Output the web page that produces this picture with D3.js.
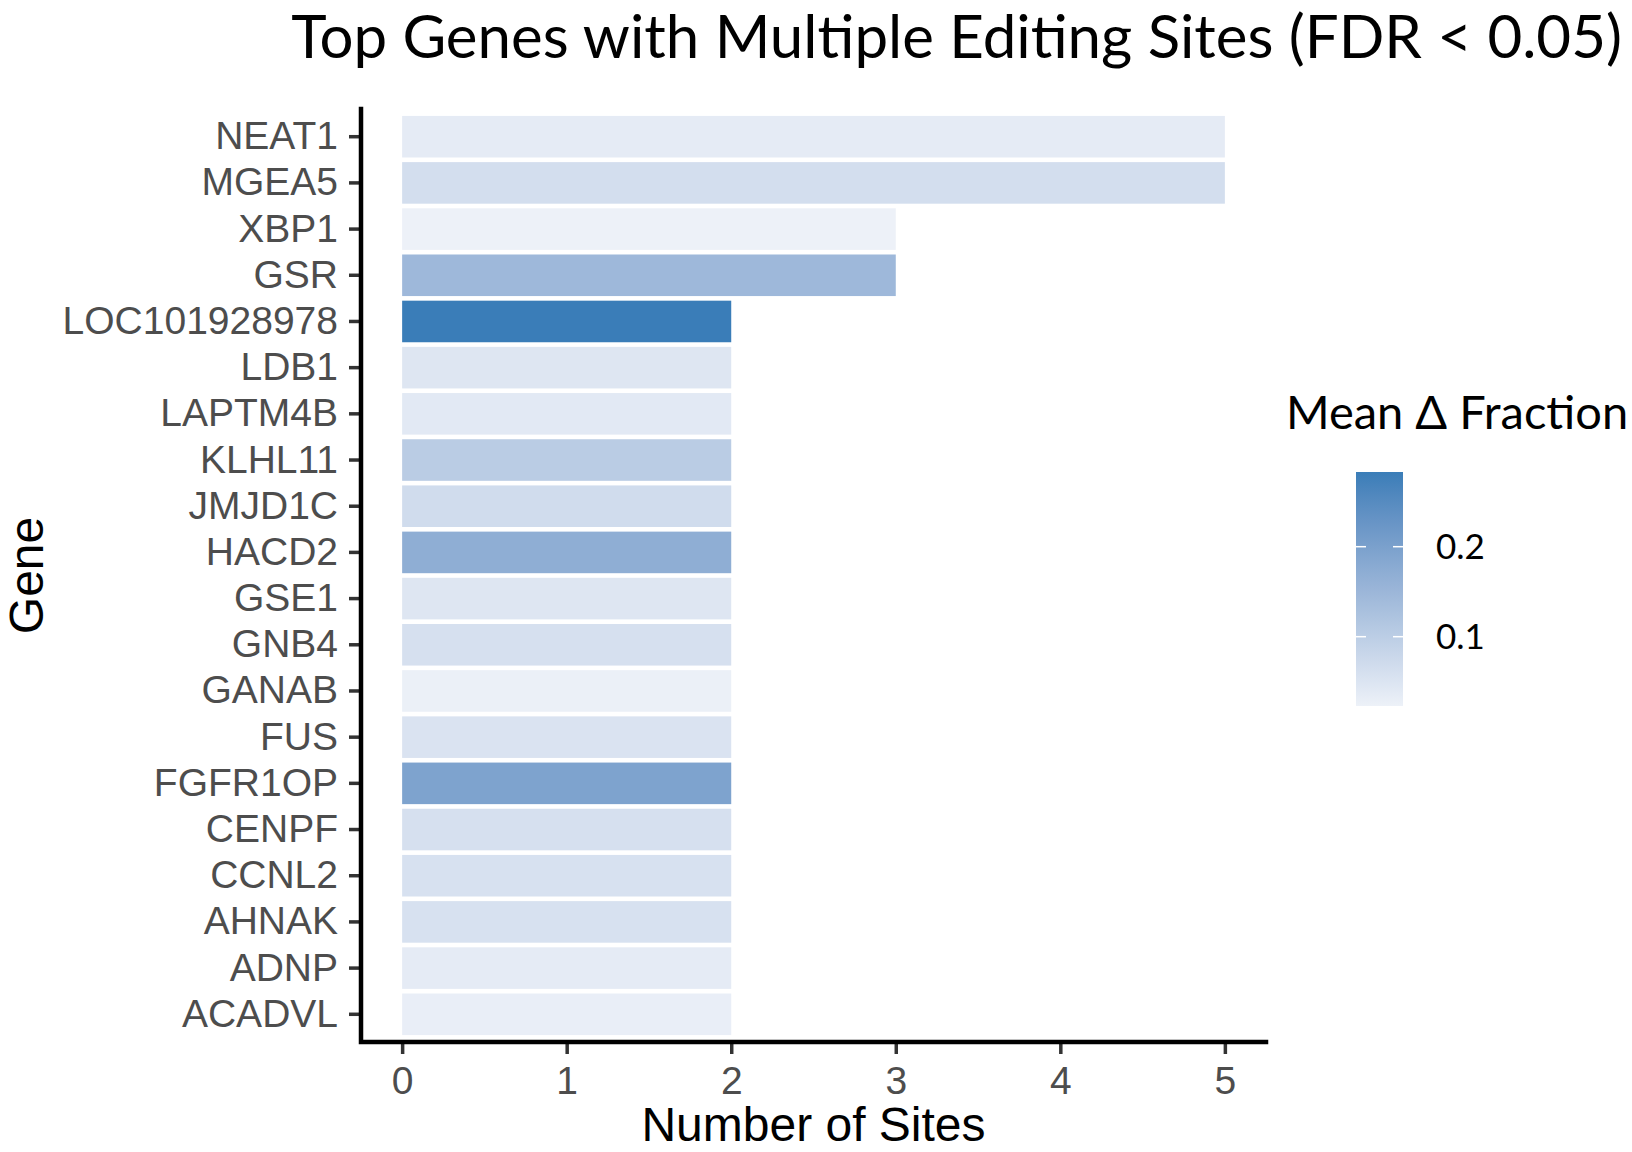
<!DOCTYPE html>
<html>
<head>
<meta charset="utf-8">
<script src="https://cdn.jsdelivr.net/npm/d3@7"></script>
<style>
  body { margin: 0; background: #fff; }
  svg { display: block; }
</style>
</head>
<body>
<div id="chart"></div>
<script>
// genes from top to bottom
var genes = ["NEAT1", "MGEA5", "XBP1", "GSR", "LOC101928978", "LDB1", "LAPTM4B", "KLHL11",
    "JMJD1C", "HACD2", "GSE1", "GNB4", "GANAB", "FUS", "FGFR1OP", "CENPF", "CCNL2", "AHNAK",
    "ADNP", "ACADVL"];
var siteCounts = [5, 5, 3, 3, 2, 2, 2, 2, 2, 2, 2, 2, 2, 2, 2, 2, 2, 2, 2, 2];
var meanDelta = [0.036, 0.064, 0.023, 0.146, 0.283, 0.046, 0.041, 0.103, 0.068, 0.169,
    0.046, 0.059, 0.026, 0.052, 0.194, 0.059, 0.057, 0.057, 0.035, 0.029];
var xTicks = [0, 1, 2, 3, 4, 5];
var legendTicks = [0.1, 0.2];

function drawChart() {
    var W = 1632, H = 1152;
    var panel = {left: 361, right: 1266, top: 109, bottom: 1042};

    var svg = d3.select("#chart").append("svg")
        .attr("width", W)
        .attr("height", H);

    var data = genes.map(function(g, i) {
        return {gene: g, n: siteCounts[i], v: meanDelta[i]};
    });

    var x = d3.scaleLinear()
        .domain([-0.25, 5.25])
        .range([panel.left, panel.right]);

    var y = d3.scaleBand()
        .domain(genes)
        .range([panel.top, panel.bottom])
        .paddingInner(0.1)
        .paddingOuter(0.15);

    var vExtent = d3.extent(meanDelta);
    var color = d3.scaleLinear()
        .domain(vExtent)
        .range(["#edf1f8", "#3a7db8"])
        .interpolate(d3.interpolateLab);

    // bars
    svg.append("g").selectAll("rect")
        .data(data)
        .enter().append("rect")
        .attr("x", x(0))
        .attr("y", function(d) { return y(d.gene); })
        .attr("width", function(d) { return x(d.n) - x(0); })
        .attr("height", y.bandwidth())
        .attr("fill", function(d) { return color(d.v); });

    // y axis
    var yAxis = svg.append("g")
        .attr("transform", "translate(" + panel.left + ",0)")
        .call(d3.axisLeft(y).tickSize(12).tickPadding(11));
    yAxis.select(".domain").remove();
    yAxis.selectAll(".tick line").attr("stroke", "#333333").attr("stroke-width", 3.5);
    yAxis.selectAll("text")
        .style("font-family", "'Liberation Sans', Arial, sans-serif")
        .style("font-size", "39px")
        .attr("fill", "#4d4d4d");

    // x axis
    var xAxis = svg.append("g")
        .attr("transform", "translate(0," + panel.bottom + ")")
        .call(d3.axisBottom(x).tickValues(xTicks).tickFormat(d3.format("d")).tickSize(12).tickPadding(12));
    xAxis.select(".domain").remove();
    xAxis.selectAll(".tick line").attr("stroke", "#333333").attr("stroke-width", 3.5);
    xAxis.selectAll("text")
        .style("font-family", "'Liberation Sans', Arial, sans-serif")
        .style("font-size", "39px")
        .attr("fill", "#4d4d4d");

    // axis lines
    svg.append("path")
        .attr("d", "M" + panel.left + "," + panel.top + "V" + panel.bottom + "H" + panel.right)
        .attr("fill", "none")
        .attr("stroke", "#000")
        .attr("stroke-width", 4.5)
        .attr("stroke-linecap", "square");

    // axis titles
    svg.append("text")
        .attr("x", (panel.left + panel.right) / 2)
        .attr("y", 1141)
        .attr("text-anchor", "middle")
        .style("font-family", "'Liberation Sans', Arial, sans-serif")
        .style("font-size", "48px")
        .text("Number of Sites");

    svg.append("text")
        .attr("transform", "translate(43," + ((panel.top + panel.bottom) / 2) + ") rotate(-90)")
        .attr("text-anchor", "middle")
        .style("font-family", "'Liberation Sans', Arial, sans-serif")
        .style("font-size", "48px")
        .text("Gene");

    // title
    svg.append("text")
        .attr("x", 1622)
        .attr("y", 58)
        .attr("text-anchor", "end")
        .style("font-family", "Lato, 'Open Sans', sans-serif")
        .style("font-size", "60px")
        .text("Top Genes with Multiple Editing Sites (FDR < 0.05)");

    // legend
    var lg = {x: 1356, w: 47, top: 472, bottom: 706};
    svg.append("text")
        .attr("x", 1286)
        .attr("y", 429)
        .style("font-family", "Lato, 'Open Sans', sans-serif")
        .style("font-size", "47px")
        .text("Mean \u0394 Fraction");

    var grad = svg.append("defs").append("linearGradient")
        .attr("id", "legendGrad")
        .attr("x1", 0).attr("y1", 1).attr("x2", 0).attr("y2", 0);
    d3.range(0, 1.0001, 0.1).forEach(function(t) {
        grad.append("stop")
            .attr("offset", t)
            .attr("stop-color", color(vExtent[0] + t * (vExtent[1] - vExtent[0])));
    });

    svg.append("rect")
        .attr("x", lg.x)
        .attr("y", lg.top)
        .attr("width", lg.w)
        .attr("height", lg.bottom - lg.top)
        .attr("fill", "url(#legendGrad)");

    var ly = d3.scaleLinear().domain(vExtent).range([lg.bottom, lg.top]);
    legendTicks.forEach(function(t) {
        svg.append("line")
            .attr("x1", lg.x).attr("x2", lg.x + 10)
            .attr("y1", ly(t)).attr("y2", ly(t))
            .attr("stroke", "#fff").attr("stroke-width", 1.5);
        svg.append("line")
            .attr("x1", lg.x + lg.w - 10).attr("x2", lg.x + lg.w)
            .attr("y1", ly(t)).attr("y2", ly(t))
            .attr("stroke", "#fff").attr("stroke-width", 1.5);
        svg.append("text")
            .attr("x", 1436)
            .attr("y", ly(t))
            .attr("dy", "0.36em")
            .style("font-family", "Lato, 'Open Sans', sans-serif")
            .style("font-size", "35px")
            .text(t.toFixed(1));
    });
}

drawChart();
</script>
</body>
</html>
